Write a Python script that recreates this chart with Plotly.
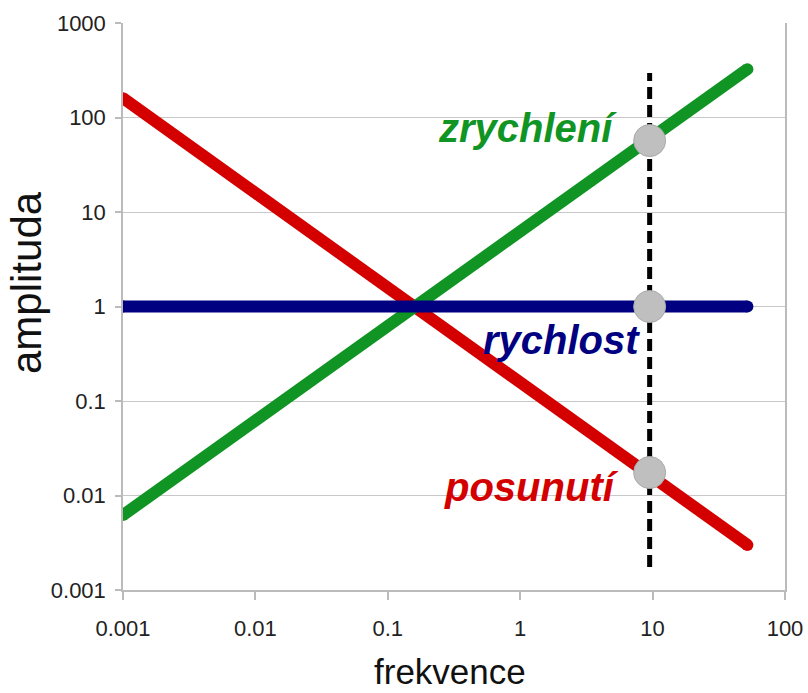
import plotly.graph_objects as go

# Data
freq = [0.001, 0.01, 0.1, 1, 10, 30, 52]
posunuti = [160, 16, 1.6, 0.16, 0.016, 0.0055, 0.003]
rychlost = [1, 1, 1, 1, 1, 1, 1]
zrychleni = [0.0062, 0.062, 0.62, 6.2, 62, 190, 325]

f_mark = 9.5
mark_vals = [57, 1, 0.0175]
dash_range = [0.00175, 295]

x_ticks = [0.001, 0.01, 0.1, 1, 10, 100]
x_labels = ["0.001", "0.01", "0.1", "1", "10", "100"]
y_ticks = [0.001, 0.01, 0.1, 1, 10, 100, 1000]
y_labels = ["0.001", "0.01", "0.1", "1", "10", "100", "1000"]

RED = "#d40000"
GREEN = "#109424"
NAVY = "#000080"
LW = 12

W, H = 808, 693
ML, MR, MT, MB = 123, 23, 23, 103
PW, PH = W - ML - MR, H - MT - MB

fig = go.Figure()

def add_line(y, color):
    fig.add_trace(go.Scatter(x=freq, y=y, mode="lines",
                             line=dict(color=color, width=LW),
                             hoverinfo="skip", showlegend=False))
    fig.add_trace(go.Scatter(x=[freq[0], freq[-1]], y=[y[0], y[-1]], mode="markers",
                             marker=dict(color=color, size=LW, line=dict(width=0)),
                             hoverinfo="skip", showlegend=False))

add_line(posunuti, RED)
add_line(zrychleni, GREEN)
add_line(rychlost, NAVY)

fig.add_trace(go.Scatter(x=[f_mark, f_mark], y=dash_range, mode="lines",
                         line=dict(color="black", width=5, dash="12px,6px"),
                         hoverinfo="skip", showlegend=False))
fig.add_trace(go.Scatter(x=[f_mark] * len(mark_vals), y=mark_vals, mode="markers",
                         marker=dict(color="#bfbfbf", size=32, line=dict(color="#aaaaaa", width=1)),
                         hoverinfo="skip", showlegend=False))

lab_font = "Liberation Sans, Arial, sans-serif"

def px(xp, yp):
    return (xp - ML) / PW, (H - MB - yp) / PH

def label(text, xp, yp, color, size=40):
    x, y = px(xp, yp)
    fig.add_annotation(x=x, y=y, xref="paper", yref="paper", text=text, showarrow=False,
                       xanchor="center", yanchor="middle",
                       font=dict(family=lab_font, size=size, color=color))

label("<b><i>zrychlení</i></b>", 527, 128, GREEN)
label("<b><i>rychlost</i></b>", 561, 340, NAVY)
label("<b><i>posunutí</i></b>", 531, 487, RED)

# axis titles
x, y = px(450, 692)
fig.add_annotation(x=x, y=y, xref="paper", yref="paper", text="frekvence", showarrow=False,
                   xanchor="center", yanchor="bottom", borderpad=0,
                   font=dict(family=lab_font, size=35, color="#111111"))
x, y = px(26, 283)
fig.add_annotation(x=x, y=y, xref="paper", yref="paper", text="amplituda", showarrow=False,
                   xanchor="center", yanchor="middle", textangle=-90,
                   font=dict(family=lab_font, size=42, color="#111111"))

fig.update_layout(
    width=W, height=H,
    margin=dict(l=ML, r=MR, t=MT, b=MB),
    paper_bgcolor="white", plot_bgcolor="white",
    font=dict(family=lab_font, color="#222222"),
    xaxis=dict(type="log", range=[-3, 2], tickvals=x_ticks, ticktext=x_labels,
               showgrid=False, showline=True, linecolor="#bbbbbb", linewidth=1.5,
               ticks="outside", ticklen=8, tickcolor="#bbbbbb", tickwidth=1.5,
               ticklabelstandoff=10, automargin=False,
               tickfont=dict(size=22, color="#222222"),
               zeroline=False),
    yaxis=dict(type="log", range=[-3, 3], tickvals=y_ticks, ticktext=y_labels,
               showgrid=True, gridcolor="#c8c8c8", gridwidth=1.2,
               showline=True, linecolor="#bbbbbb", linewidth=1.5, mirror=True,
               ticks="outside", ticklen=6, tickcolor="#bbbbbb", tickwidth=1.5,
               ticklabelstandoff=5, automargin=False,
               tickfont=dict(size=22, color="#222222"),
               zeroline=False),
)

fig.write_html("out.html")
